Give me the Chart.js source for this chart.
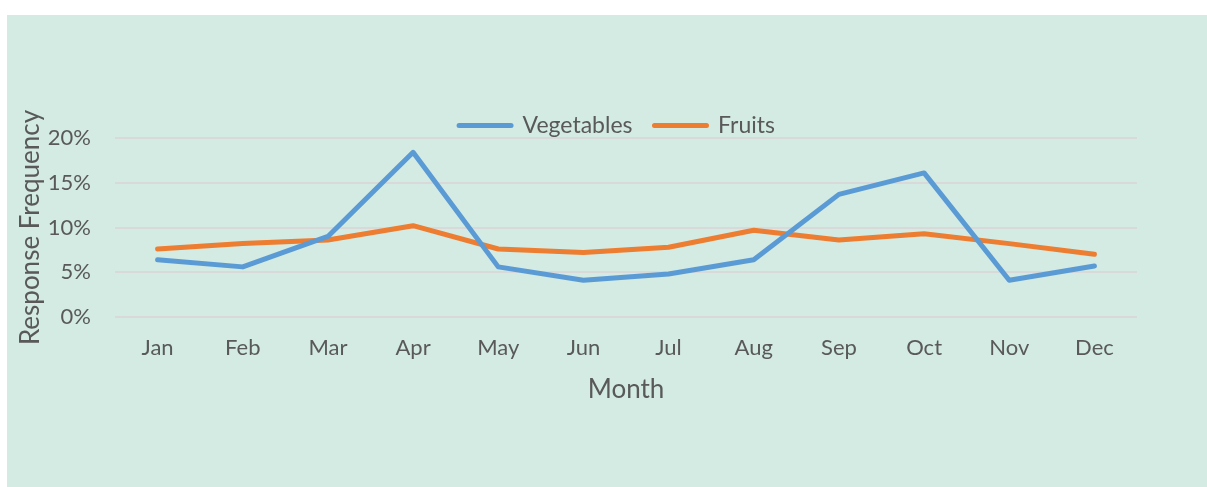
<!DOCTYPE html>
<html>
<head>
<meta charset="utf-8">
<script src="https://cdn.jsdelivr.net/npm/chart.js@4/dist/chart.umd.min.js"></script>
<style>
  html, body { margin: 0; padding: 0; background: #ffffff; }
  #wrap {
    position: absolute;
    left: 7px;
    top: 15px;
    width: 1200px;
    height: 472px;
    background: #d3ebe2;
  }
</style>
</head>
<body>
<div id="wrap"><canvas id="freqChart" width="1200" height="472"></canvas></div>
<script>
const months = ["Jan", "Feb", "Mar", "Apr", "May", "Jun", "Jul", "Aug", "Sep", "Oct", "Nov", "Dec"];
const vegetables = [0.064, 0.056, 0.090, 0.184, 0.056, 0.041, 0.048, 0.064, 0.137, 0.161, 0.041, 0.057];
const fruits = [0.076, 0.082, 0.086, 0.102, 0.076, 0.072, 0.078, 0.097, 0.086, 0.093, 0.082, 0.070];
const yTicks = [0, 0.05, 0.1, 0.15, 0.2];

const textColor = "#595959";
const fontFamily = "Lato, 'Liberation Sans', sans-serif";

// squeeze the legend box so it sits just above the plot like in Excel,
// and centre it over the plot area instead of the whole canvas
const legendPlace = {
  id: "legendPlace",
  beforeLayout(chart) {
    const legend = chart.legend;
    if (!legend || legend._squeezed) return;
    const fit = legend.fit;
    legend.fit = function () {
      fit.call(this);
      this.height = 46;
    };
    legend._squeezed = true;
  },
  afterLayout(chart) {
    if (chart.legend) {
      chart.legend.left += 86;
    }
  },
};

const ctx = document.getElementById("freqChart");

new Chart(ctx, {
  type: "line",
  data: {
    labels: months,
    datasets: [
      {
        label: "Vegetables",
        data: vegetables,
        borderColor: "#5b9bd5",
        backgroundColor: "#5b9bd5",
        borderWidth: 5,
        borderCapStyle: "round",
        borderJoinStyle: "round",
        pointRadius: 0,
        tension: 0,
        fill: false,
      },
      {
        label: "Fruits",
        data: fruits,
        borderColor: "#ed7d31",
        backgroundColor: "#ed7d31",
        borderWidth: 5,
        borderCapStyle: "round",
        borderJoinStyle: "round",
        pointRadius: 0,
        tension: 0,
        fill: false,
      },
    ],
  },
  options: {
    responsive: false,
    animation: false,
    layout: {
      padding: { top: 77, left: 4, right: 70, bottom: 78 },
    },
    plugins: {
      tooltip: { enabled: false },
      legend: {
        position: "top",
        align: "center",
        labels: {
          color: textColor,
          font: { family: fontFamily, size: 23 },
          boxWidth: 52,
          boxHeight: 0,
          padding: 22,
        },
      },
    },
    scales: {
      x: {
        offset: true,
        grid: { display: false, drawTicks: false },
        border: { display: false },
        ticks: {
          color: textColor,
          font: { family: fontFamily, size: 22 },
          padding: 18,
          maxRotation: 0,
        },
        title: {
          display: true,
          text: "Month",
          color: textColor,
          font: { family: fontFamily, size: 26 },
          padding: { top: 4, bottom: 4 },
        },
        afterFit: (scale) => {
          scale.height = 92;
        },
      },
      y: {
        min: 0,
        max: 0.2,
        afterBuildTicks: (scale) => {
          scale.ticks = yTicks.map((v) => ({ value: v }));
        },
        grid: { color: "#d9d9d9", lineWidth: 2, drawTicks: false },
        border: { display: false },
        ticks: {
          color: textColor,
          font: { family: fontFamily, size: 22 },
          padding: 24,
          callback: (v) => Math.round(v * 100) + "%",
        },
        title: {
          display: true,
          text: "Response Frequency",
          color: textColor,
          font: { family: fontFamily, size: 26 },
          padding: { top: 4, bottom: 4 },
        },
        afterFit: (scale) => {
          scale.width = 104;
        },
      },
    },
  },
  plugins: [legendPlace],
});
</script>
</body>
</html>
